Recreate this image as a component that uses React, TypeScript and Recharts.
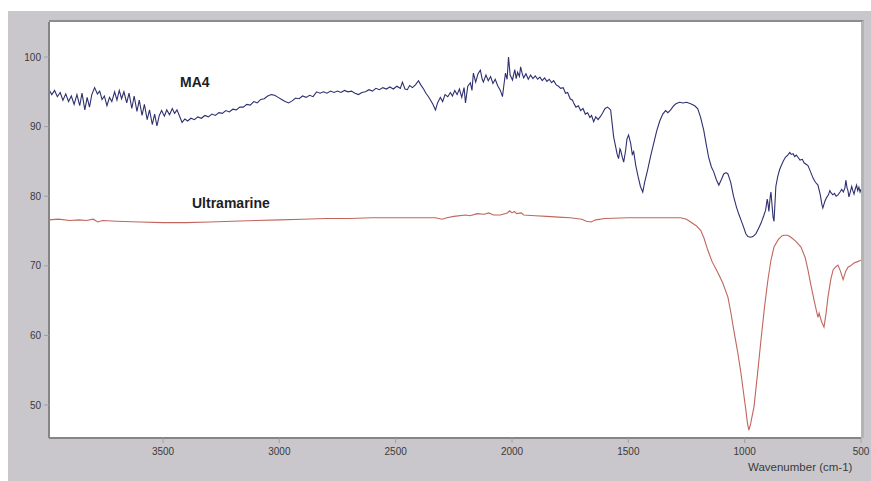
import { LineChart, Line, XAxis, YAxis } from 'recharts';

// IR spectra: wavenumber (cm-1) vs transmittance (%)
const X_TICKS = [3500, 3000, 2500, 2000, 1500, 1000, 500];
const Y_TICKS = [50, 60, 70, 80, 90, 100];

// MA4 sample, [wavenumber, value]
const ma4Points: [number, number][] = [
  [3990, 95.3], [3978, 94.6], [3966, 95.2], [3954, 94.3], [3942, 94.9], [3930, 93.8],
  [3918, 94.7], [3906, 93.6], [3894, 94.4], [3882, 93.2], [3870, 94.6], [3858, 93.0],
  [3848, 94.8], [3836, 92.4], [3826, 94.2], [3816, 92.8], [3806, 94.6], [3794, 95.6],
  [3782, 94.7], [3772, 95.1], [3762, 93.9], [3752, 94.4], [3741, 93.0], [3730, 94.2],
  [3720, 93.6], [3708, 95.0], [3698, 93.8], [3688, 95.2], [3678, 94.0], [3668, 95.0],
  [3656, 93.4], [3646, 94.8], [3634, 92.6], [3624, 94.4], [3612, 92.2], [3602, 93.8],
  [3590, 91.6], [3580, 93.2], [3568, 91.0], [3558, 92.4], [3546, 90.3], [3536, 91.8],
  [3526, 90.1], [3516, 91.6], [3506, 92.3], [3494, 91.5], [3484, 92.4], [3472, 91.7],
  [3460, 92.6], [3450, 91.9], [3440, 92.4], [3430, 91.6], [3418, 90.6], [3406, 91.1],
  [3394, 90.8], [3380, 91.2], [3365, 91.0], [3350, 91.4], [3335, 91.2], [3320, 91.6],
  [3305, 91.4], [3290, 91.8], [3275, 91.6], [3260, 92.0], [3245, 91.9], [3230, 92.3],
  [3215, 92.1], [3200, 92.5], [3185, 92.4], [3170, 92.8], [3155, 92.8], [3140, 93.2],
  [3125, 93.1], [3110, 93.6], [3095, 93.4], [3080, 93.9], [3065, 94.0], [3050, 94.4],
  [3035, 94.6], [3020, 94.5], [3005, 94.2], [2990, 93.9], [2975, 93.6], [2960, 93.4],
  [2945, 93.7], [2930, 94.1], [2915, 94.0], [2900, 94.4], [2885, 94.2], [2870, 94.5],
  [2855, 94.3], [2840, 95.0], [2825, 94.8], [2810, 95.0], [2795, 94.8], [2780, 95.1],
  [2765, 94.9], [2750, 95.1], [2735, 94.9], [2720, 95.2], [2705, 95.0], [2690, 95.1],
  [2675, 94.8], [2660, 94.6], [2645, 94.9], [2630, 95.0], [2615, 95.3], [2600, 95.1],
  [2585, 95.5], [2570, 95.3], [2555, 95.6], [2540, 95.4], [2525, 95.7], [2510, 95.4],
  [2495, 95.8], [2480, 95.5], [2471, 96.4], [2460, 95.4], [2450, 95.3], [2440, 95.9],
  [2428, 95.6], [2415, 96.0], [2402, 96.6], [2392, 96.0], [2380, 95.4], [2370, 94.8],
  [2359, 94.3], [2350, 93.8], [2340, 93.2], [2329, 92.4], [2320, 93.4], [2308, 94.2],
  [2298, 93.6], [2288, 94.6], [2276, 94.3], [2265, 94.9], [2256, 94.4], [2246, 95.2],
  [2236, 94.6], [2226, 95.4], [2216, 94.2], [2206, 95.6], [2200, 93.4], [2190, 95.8],
  [2179, 96.3], [2172, 95.2], [2166, 97.7], [2156, 96.4], [2146, 97.6], [2136, 98.1],
  [2128, 96.8], [2123, 96.4], [2112, 97.4], [2102, 96.6], [2092, 97.2], [2082, 96.2],
  [2072, 96.8], [2062, 95.9], [2050, 95.2], [2041, 94.3], [2034, 96.2], [2028, 97.7],
  [2021, 96.8], [2015, 100.0], [2008, 97.4], [1998, 96.7], [1988, 98.2], [1982, 96.9],
  [1976, 97.8], [1968, 97.2], [1963, 98.6], [1956, 97.6], [1950, 97.0], [1940, 97.6],
  [1930, 96.8], [1920, 97.4], [1910, 96.9], [1900, 97.3], [1890, 96.8], [1880, 97.1],
  [1870, 96.6], [1860, 97.0], [1850, 96.5], [1840, 96.8], [1830, 96.3], [1821, 96.6],
  [1810, 96.0], [1800, 95.8], [1791, 95.5], [1780, 95.6], [1770, 94.8], [1761, 94.9],
  [1750, 94.0], [1740, 93.8], [1735, 93.4], [1725, 92.8], [1715, 93.0], [1705, 92.3],
  [1695, 92.6], [1685, 91.8], [1675, 92.0], [1665, 91.3], [1658, 91.6], [1649, 90.7],
  [1640, 91.4], [1630, 91.0], [1619, 91.5], [1610, 92.0], [1600, 92.6], [1589, 92.8],
  [1576, 92.4], [1568, 90.0], [1563, 88.5], [1555, 87.2], [1548, 86.0], [1542, 85.4],
  [1536, 86.8], [1533, 86.6], [1526, 85.6], [1520, 84.9], [1512, 86.5], [1506, 88.2],
  [1499, 88.8], [1490, 87.6], [1483, 86.0], [1477, 86.4], [1468, 84.4], [1458, 82.8],
  [1448, 81.4], [1438, 80.6], [1430, 82.0], [1417, 83.8], [1404, 85.8], [1391, 87.6],
  [1378, 89.4], [1365, 90.8], [1352, 91.8], [1340, 92.3], [1330, 92.0], [1318, 92.4],
  [1305, 93.0], [1295, 93.3], [1280, 93.5], [1265, 93.4], [1250, 93.5], [1232, 93.3],
  [1215, 93.0], [1202, 92.6], [1190, 91.4], [1176, 89.5], [1165, 87.4], [1155, 85.6],
  [1143, 84.2], [1133, 83.5], [1122, 82.4], [1111, 81.6], [1100, 82.4], [1090, 83.2],
  [1080, 83.4], [1072, 83.2], [1066, 82.6], [1060, 82.0], [1048, 80.0], [1035, 78.4],
  [1025, 77.4], [1016, 76.6], [1005, 75.6], [995, 74.6], [986, 74.2], [975, 74.1],
  [965, 74.2], [952, 74.6], [940, 75.4], [930, 76.1], [918, 77.2], [910, 78.0],
  [903, 79.6], [900, 79.0], [896, 77.8], [890, 80.0], [887, 80.6], [882, 78.6],
  [878, 77.0], [874, 76.4], [870, 78.8], [866, 81.4], [858, 82.8], [850, 83.8],
  [844, 84.3], [835, 85.0], [825, 85.6], [815, 85.9], [806, 86.3], [800, 86.0],
  [792, 86.1], [785, 85.7], [778, 85.9], [771, 85.6], [762, 85.2], [752, 85.3],
  [745, 84.8], [736, 84.6], [728, 84.4], [718, 83.6], [706, 82.6], [696, 82.0],
  [685, 81.6], [675, 80.2], [668, 78.8], [664, 78.3], [656, 79.2], [648, 79.8],
  [640, 80.2], [634, 80.8], [629, 80.5], [621, 80.2], [614, 80.4], [607, 80.0],
  [599, 80.2], [590, 80.6], [583, 81.0], [576, 80.6], [569, 81.2], [565, 82.3],
  [560, 81.2], [556, 80.8], [552, 79.9], [546, 80.6], [540, 81.4], [535, 80.8],
  [530, 80.3], [525, 81.0], [519, 81.6], [514, 80.8], [509, 81.3], [504, 80.6],
  [500, 81.0],
];

// Ultramarine reference, [wavenumber, value]
const ultramarinePoints: [number, number][] = [
  [3990, 76.6], [3950, 76.7], [3900, 76.5], [3860, 76.6], [3830, 76.5], [3800, 76.7],
  [3780, 76.3], [3760, 76.5], [3700, 76.4], [3600, 76.3], [3500, 76.2], [3400, 76.2],
  [3300, 76.3], [3200, 76.4], [3100, 76.5], [3000, 76.6], [2900, 76.7], [2800, 76.8],
  [2700, 76.8], [2600, 76.9], [2500, 76.9], [2400, 76.9], [2330, 76.9], [2300, 76.7],
  [2280, 76.9], [2250, 77.1], [2200, 77.3], [2180, 77.2], [2150, 77.5], [2120, 77.4],
  [2100, 77.6], [2080, 77.3], [2050, 77.3], [2020, 77.6], [2010, 77.9], [2000, 77.6],
  [1990, 77.8], [1980, 77.5], [1960, 77.6], [1950, 77.3], [1900, 77.2], [1850, 77.1],
  [1800, 77.0], [1750, 76.9], [1700, 76.7], [1680, 76.4], [1660, 76.3], [1640, 76.6],
  [1600, 76.8], [1500, 76.9], [1400, 76.9], [1300, 76.9], [1275, 76.9], [1250, 76.7],
  [1232, 76.3], [1210, 75.8], [1189, 75.1], [1175, 74.0], [1159, 72.3], [1140, 70.6],
  [1115, 69.0], [1095, 67.6], [1072, 65.5], [1060, 63.4], [1047, 60.8], [1030, 57.6],
  [1016, 54.6], [1005, 51.8], [995, 49.3], [988, 47.4], [982, 46.4], [975, 47.2],
  [968, 48.4], [960, 49.7], [945, 54.4], [930, 59.3], [915, 64.0], [900, 68.0],
  [887, 70.8], [874, 72.7], [855, 73.8], [840, 74.3], [831, 74.4], [815, 74.4],
  [801, 74.1], [780, 73.5], [758, 72.7], [740, 71.2], [728, 69.4], [715, 67.2],
  [702, 65.1], [692, 63.6], [685, 62.6], [680, 63.2], [670, 62.0], [659, 61.2],
  [650, 63.2], [642, 65.5], [630, 68.0], [620, 69.4], [610, 69.8], [599, 70.1],
  [588, 69.2], [577, 68.0], [566, 69.2], [556, 69.8], [545, 70.0], [530, 70.4],
  [515, 70.6], [500, 70.8],
];

const ma4Data = ma4Points.map(([w, v]) => ({ w, v }));
const ultramarineData = ultramarinePoints.map(([w, v]) => ({ w, v }));

const FONT = '"Liberation Sans", Arial, sans-serif';

export default function App() {
  return (
    <div style={{ position: 'relative', width: 871, height: 481, background: '#fff', fontFamily: FONT, overflow: 'hidden' }}>
      <style>{'body{margin:0}'}</style>
      {/* gray panel */}
      <div style={{ position: 'absolute', left: 8, top: 11, width: 863, height: 470, background: '#c9c7cb' }} />
      {/* white plot area with frame */}
      <div
        style={{
          position: 'absolute',
          left: 49,
          top: 20,
          width: 815,
          height: 418,
          background: '#fff',
          borderTop: '2px solid #8c8c8c',
          borderRight: '3px solid #b4b4b4',
          boxSizing: 'border-box',
        }}
      />
      <div style={{ position: 'absolute', left: 0, top: 0 }}>
        <LineChart width={871} height={481} margin={{ top: 22, right: 10, bottom: 0, left: 0 }}>
          <XAxis
            type="number"
            dataKey="w"
            domain={[500, 3990]}
            reversed
            allowDataOverflow
            ticks={X_TICKS}
            height={43}
            tick={{ fill: '#3a3a3a', fontSize: 10, fontFamily: FONT }}
            tickSize={5}
            tickMargin={5}
            axisLine={{ stroke: '#858585', strokeWidth: 2 }}
            tickLine={{ stroke: '#a0a0a0' }}
          />
          <YAxis
            type="number"
            dataKey="v"
            domain={[45.26, 105.03]}
            allowDataOverflow
            ticks={Y_TICKS}
            width={49}
            tick={{ fill: '#3a3a3a', fontSize: 10, fontFamily: FONT }}
            tickSize={5}
            tickMargin={3}
            axisLine={{ stroke: '#858585', strokeWidth: 2 }}
            tickLine={{ stroke: '#a0a0a0' }}
          />
          <Line
            data={ma4Data}
            dataKey="v"
            type="linear"
            stroke="#2e3070"
            strokeWidth={1.1}
            dot={false}
            isAnimationActive={false}
          />
          <Line
            data={ultramarineData}
            dataKey="v"
            type="linear"
            stroke="#c0665c"
            strokeWidth={1.1}
            dot={false}
            isAnimationActive={false}
          />
        </LineChart>
      </div>
      {/* series labels */}
      <div style={{ position: 'absolute', left: 180, top: 74, fontSize: 14, fontWeight: 'bold', color: '#1e1e1e' }}>MA4</div>
      <div style={{ position: 'absolute', left: 192, top: 195, fontSize: 14, fontWeight: 'bold', color: '#1e1e1e' }}>Ultramarine</div>
      <div style={{ position: 'absolute', left: 748, top: 461, fontSize: 11.5, color: '#3a3a3a' }}>Wavenumber (cm-1)</div>
    </div>
  );
}
